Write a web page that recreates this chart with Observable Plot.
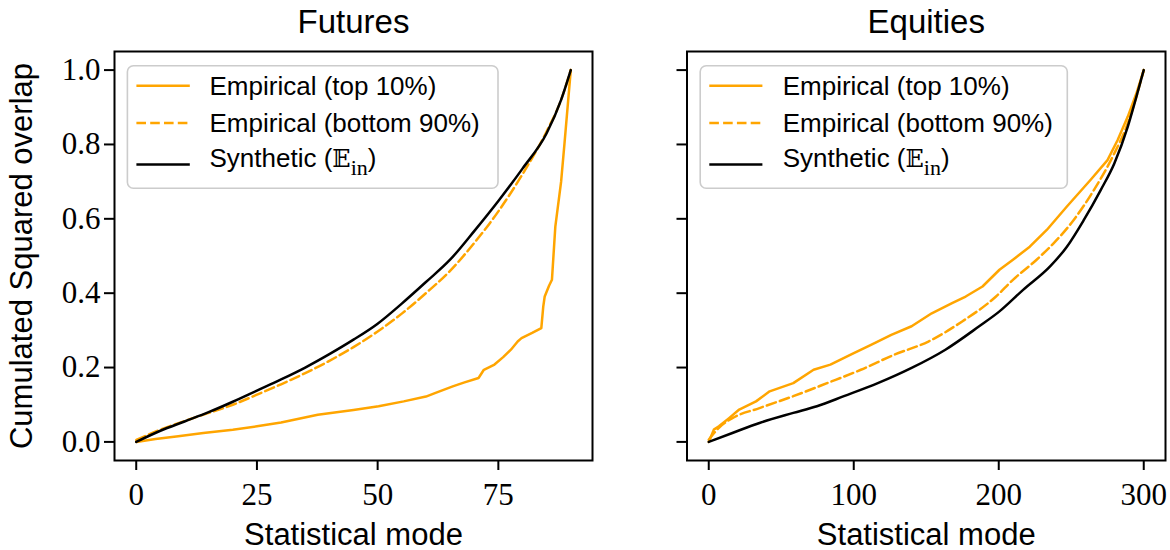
<!DOCTYPE html>
<html><head><meta charset="utf-8">
<script src="https://cdn.jsdelivr.net/npm/d3@7"></script>
<script src="https://cdn.jsdelivr.net/npm/@observablehq/plot@0.6"></script>
<style>
body{margin:0;background:#fff;}
#wrap{position:relative;width:1170px;height:550px;overflow:hidden;}
#wrap > svg{position:absolute;top:0;}
</style></head><body><div id="wrap"></div>
<script>
// ---------- data ----------
const panelTitles = ["Futures", "Equities"];
const xLabel = "Statistical mode";
const yLabel = "Cumulated Squared overlap";
const legendLabels = ["Empirical (top 10%)", "Empirical (bottom 90%)", "Synthetic ("];

const futXTicks = [0, 25, 50, 75];
const eqXTicks = [0, 100, 200, 300];
const yTicks = [0, 0.2, 0.4, 0.6, 0.8, 1.0];

// Futures
const futTopX = [0, 4, 8.7, 13.9, 20, 25, 30, 37.6, 45, 50.2, 55.4, 60, 62, 65.7, 68, 70.9, 72, 74.2, 76, 77.6, 79, 79.8, 82, 83.9, 84.3, 84.6, 85.5, 86.1, 86.8, 88, 88.7, 90];
const futTopY = [0, 0.008, 0.015, 0.024, 0.033, 0.042, 0.052, 0.073, 0.086, 0.096, 0.109, 0.122, 0.132, 0.15, 0.16, 0.172, 0.194, 0.208, 0.228, 0.248, 0.27, 0.279, 0.293, 0.306, 0.364, 0.391, 0.42, 0.436, 0.579, 0.7, 0.803, 1.0];
const futBotX = [0, 5, 10, 15, 20, 25, 30, 35, 40, 45, 50, 55, 60, 65, 70, 75, 80, 85, 88, 90];
const futBotY = [0.005, 0.033, 0.056, 0.078, 0.1, 0.127, 0.155, 0.185, 0.218, 0.255, 0.297, 0.345, 0.4, 0.46, 0.535, 0.62, 0.72, 0.835, 0.92, 1.0];
const futSynX = [0, 5, 10, 15, 20, 25, 30, 35, 40, 45, 50, 55, 60, 65, 70, 75, 80, 85, 88, 90];
const futSynY = [0, 0.03, 0.055, 0.08, 0.108, 0.138, 0.168, 0.2, 0.236, 0.275, 0.318, 0.372, 0.43, 0.49, 0.567, 0.648, 0.735, 0.83, 0.92, 1.0];

// Equities
const eqTopX = [0, 3.5, 7, 14, 21, 32.6, 42, 58.3, 72.3, 83.9, 97.9, 111.9, 125.9, 139.9, 153.8, 167.8, 177.2, 188.8, 200.5, 209.8, 221.4, 233.1, 247, 263.4, 275, 282, 289, 294.9, 300];
const eqTopY = [0, 0.033, 0.042, 0.064, 0.087, 0.109, 0.136, 0.158, 0.194, 0.208, 0.235, 0.261, 0.288, 0.311, 0.346, 0.373, 0.391, 0.418, 0.463, 0.49, 0.525, 0.57, 0.633, 0.705, 0.758, 0.812, 0.875, 0.937, 1.0];
const eqBotX = [0, 7, 16.3, 35, 58.3, 81.6, 104.9, 128.2, 151.5, 174.8, 198.1, 209.8, 226.1, 237.8, 251.7, 265.7, 279.7, 289, 300];
const eqBotY = [0.006, 0.038, 0.064, 0.091, 0.123, 0.158, 0.194, 0.235, 0.27, 0.324, 0.391, 0.436, 0.49, 0.534, 0.597, 0.678, 0.776, 0.857, 1.0];
const eqSynX = [0, 16.3, 35, 58.3, 74.6, 93.2, 116.6, 139.9, 163.2, 186.5, 200.5, 216.8, 235.4, 247, 258.7, 270.4, 279.7, 289, 294.9, 300];
const eqSynY = [0, 0.024, 0.051, 0.078, 0.096, 0.123, 0.158, 0.199, 0.248, 0.311, 0.351, 0.409, 0.472, 0.525, 0.597, 0.678, 0.749, 0.848, 0.928, 1.0];

// ---------- style ----------
const ORANGE = "#ffa500";
const DASH = "9.6,4.2";
const LW = 2.5;
const SANS = "Liberation Sans";
const SERIF = "Liberation Serif";

const pts = (xs, ys) => xs.map((x, i) => ({x, y: ys[i]}));

function panel({title, xTicks, xDomain, top, bot, syn, width, marginLeft, marginRight, showYLabels}) {
  const marks = [
    Plot.frame({stroke: "black", strokeWidth: 2}),
    Plot.axisX({ticks: xTicks, tickSize: 10, tickPadding: 12, strokeWidth: 2,
      fontSize: 31, fontFamily: SERIF, fill: "black", label: null, tickFormat: d3.format("d")}),
    Plot.axisY({ticks: yTicks, tickSize: 10, tickPadding: 4, strokeWidth: 2,
      fontSize: 31, fontFamily: SERIF, fill: "black", label: null,
      tickFormat: showYLabels ? d3.format(".1f") : () => ""}),
    Plot.line(top, {x: "x", y: "y", stroke: ORANGE, strokeWidth: LW}),
    Plot.line(bot, {x: "x", y: "y", stroke: ORANGE, strokeWidth: LW, strokeDasharray: DASH, curve: "monotone-x"}),
    Plot.line(syn, {x: "x", y: "y", stroke: "black", strokeWidth: LW, curve: "monotone-x"}),
    Plot.text([title], {frameAnchor: "top", textAnchor: "middle", lineAnchor: "bottom", dy: -19, fontSize: 33, fontFamily: SANS, fill: "black"}),
    Plot.text([xLabel], {frameAnchor: "bottom", textAnchor: "middle", lineAnchor: "bottom", dy: 84, fontSize: 31, fontFamily: SANS, fill: "black"})
  ];
  if (showYLabels) {
    marks.push(Plot.text([yLabel], {frameAnchor: "left", textAnchor: "middle", lineAnchor: "middle", rotate: -90, dx: -92, fontSize: 31, fontFamily: SANS, fill: "black"}));
  }
  return Plot.plot({
    width, height: 550,
    marginLeft, marginRight, marginTop: 51, marginBottom: 90,
    x: {domain: xDomain},
    y: {domain: [-0.05, 1.05]},
    style: {background: "white", fontFamily: SERIF, overflow: "visible"},
    marks
  });
}

function addLegend(svg, box, lineX0, lineX1, textX) {
  const g = d3.select(svg).append("g").attr("text-anchor", "start");
  g.append("rect").attr("x", box[0]).attr("y", box[1]).attr("width", box[2]).attr("height", box[3])
    .attr("rx", 6).attr("fill", "white").attr("fill-opacity", 0.8).attr("stroke", "#cccccc").attr("stroke-width", 1.6);
  const lineYs = [box[1] + 20, box[1] + 57.3, box[1] + 98.9];
  const textYs = [box[1] + 29.3, box[1] + 66.7, box[1] + 100.9];
  const styles = [
    {stroke: ORANGE, dash: null},
    {stroke: ORANGE, dash: DASH},
    {stroke: "black", dash: null}
  ];
  styles.forEach((s, i) => {
    const l = g.append("line").attr("x1", lineX0).attr("x2", lineX1).attr("y1", lineYs[i]).attr("y2", lineYs[i])
      .attr("stroke", s.stroke).attr("stroke-width", LW);
    if (s.dash) l.attr("stroke-dasharray", s.dash);
  });
  for (let i = 0; i < 2; i++) {
    g.append("text").attr("x", textX).attr("y", textYs[i]).attr("text-anchor", "start")
      .attr("font-family", SANS).attr("font-size", 26).attr("fill", "black").text(legendLabels[i]);
  }
  const t = g.append("text").attr("x", textX).attr("y", textYs[2]).attr("text-anchor", "start")
    .attr("font-family", SANS).attr("font-size", 26).attr("fill", "black");
  t.append("tspan").text(legendLabels[2]);
  t.append("tspan").attr("font-family", "DejaVu Serif").attr("font-size", 24).text("\u{1D53C}");
  t.append("tspan").attr("font-family", SERIF).attr("font-size", 22).attr("dy", 8).text("in");
  t.append("tspan").attr("dy", -8).text(")");
}

const wrap = document.getElementById("wrap");

const left = panel({
  title: panelTitles[0], xTicks: futXTicks, xDomain: [-4.5, 94.5],
  top: pts(futTopX, futTopY), bot: pts(futBotX, futBotY), syn: pts(futSynX, futSynY),
  width: 600, marginLeft: 114, marginRight: 8, showYLabels: true
});
left.style.left = "0px";
wrap.appendChild(left);
addLegend(left, [127.4, 65.7, 370.6, 122.6], 136.4, 189.8, 209.5);

const right = panel({
  title: panelTitles[1], xTicks: eqXTicks, xDomain: [-15, 315],
  top: pts(eqTopX, eqTopY), bot: pts(eqBotX, eqBotY), syn: pts(eqSynX, eqSynY),
  width: 530, marginLeft: 46.5, marginRight: 5, showYLabels: false
});
right.style.left = "640px";
wrap.appendChild(right);
addLegend(right, [700.2 - 640, 65.7, 367.1, 122.6], 709.3 - 640, 762.4 - 640, 782.7 - 640);
</script></body></html>
